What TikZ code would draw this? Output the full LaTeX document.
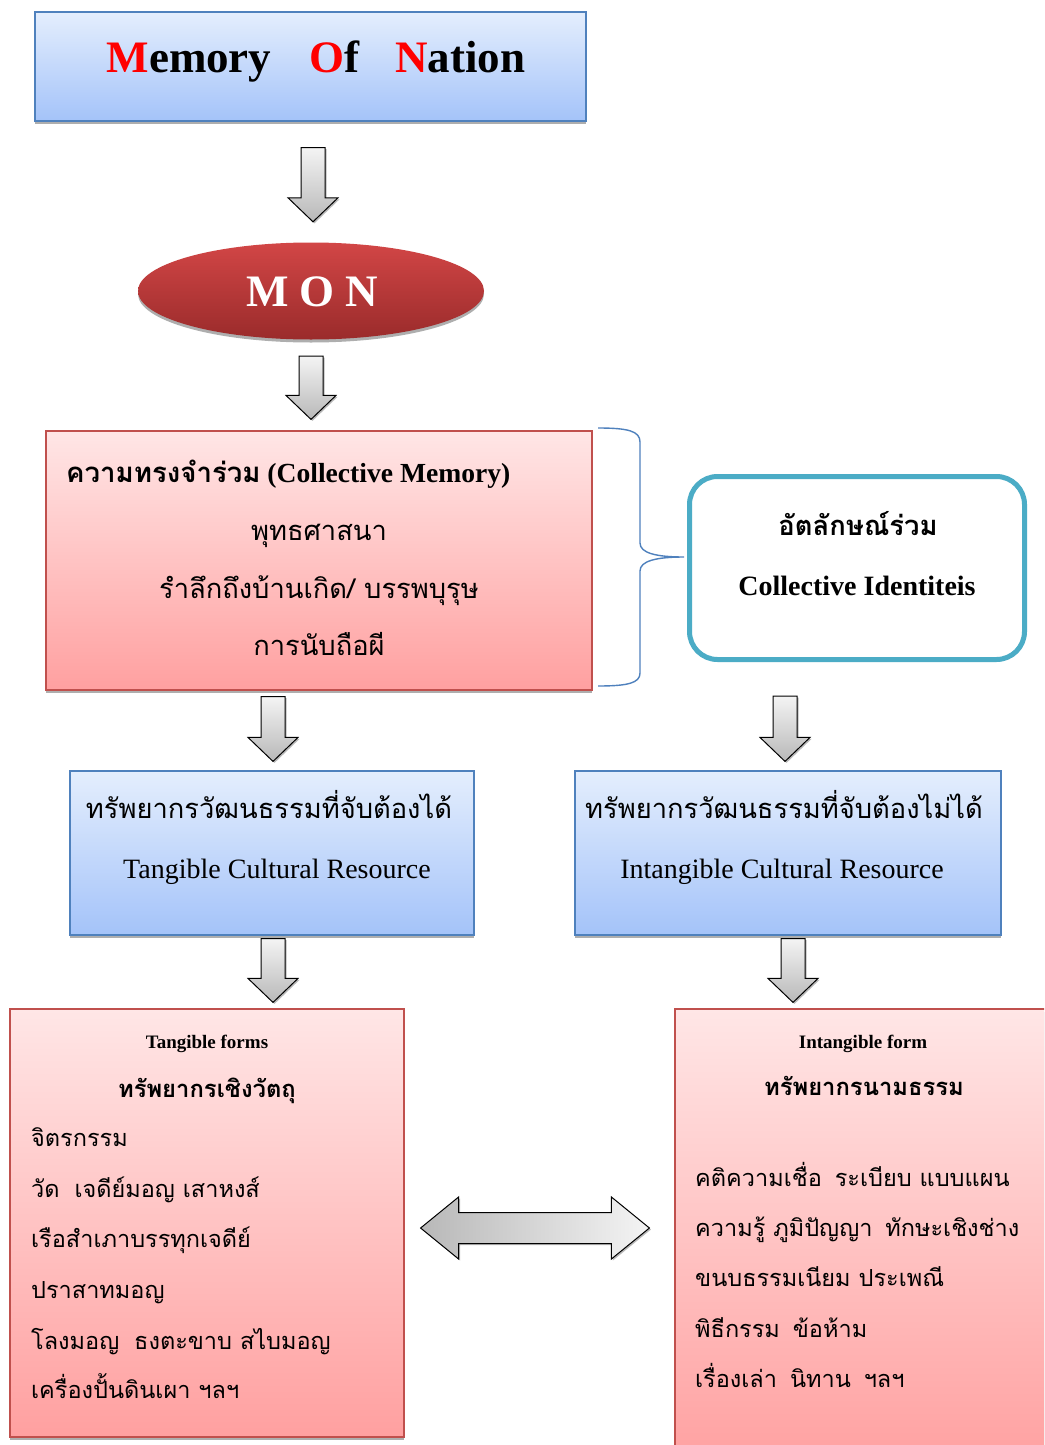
\documentclass[tikz,border=0pt]{standalone}
\usepackage{fontspec}
\setmainfont{Liberation Serif}
\newfontfamily\thai[Script=Thai]{Loma}
\usetikzlibrary{shapes.geometric,shadows,calc}

\definecolor{bluetop}{HTML}{E4EEFD}
\definecolor{bluebot}{HTML}{A4C3F9}
\definecolor{blueline}{HTML}{4F81BD}
\definecolor{pinktop}{HTML}{FFE6E6}
\definecolor{pinkbot}{HTML}{FFA0A0}
\definecolor{redline}{HTML}{C0504D}
\definecolor{tealline}{HTML}{4BACC6}
\definecolor{montop}{HTML}{D24646}
\definecolor{monbot}{HTML}{9A2B2B}
\definecolor{arrtop}{HTML}{F4F4F4}
\definecolor{arrbot}{HTML}{B8B8B8}

\tikzset{
  boxshadow/.style={drop shadow={shadow xshift=0pt,shadow yshift=-3pt,fill=black!45,opacity=0.7}},
  bluebox/.style={rectangle, draw=blueline, line width=1.2pt, top color=bluetop,
    bottom color=bluebot, inner sep=0pt, boxshadow},
  pinkbox/.style={rectangle, draw=redline, line width=1.2pt, top color=pinktop,
    bottom color=pinkbot, inner sep=0pt, boxshadow},
  identbox/.style={rectangle, rounded corners=28pt, draw=tealline, line width=5pt,
    fill=white, inner sep=0pt},
  monshape/.style={ellipse, top color=montop, bottom color=monbot, inner sep=0pt,
    boxshadow},
  blockarrow/.style={draw=black, line width=1pt, line join=miter, top color=arrtop,
    bottom color=arrbot, drop shadow={shadow xshift=1.5pt,shadow yshift=-1.5pt,fill=black!55}},
  dblarrow/.style={draw=black, line width=1pt, line join=miter, left color=arrbot,
    right color=arrtop, drop shadow={shadow xshift=1.5pt,shadow yshift=-1.5pt,fill=black!55}},
  bracestyle/.style={draw=blueline, line width=1.4pt},
  txt/.style={anchor=base, inner sep=0pt},
  entxt/.style={txt, font=\fontsize{28}{32}\selectfont},
  enbold/.style={txt, font=\bfseries\fontsize{28}{32}\selectfont},
  ensmall/.style={txt, font=\bfseries\fontsize{19}{22}\selectfont},
  thtxt/.style={txt, font=\thai\fontsize{27.3}{30}\selectfont},
  thbig/.style={txt, font=\thai\bfseries\fontsize{27.4}{30}\selectfont},
  thbold/.style={txt, font=\thai\bfseries\fontsize{23.8}{28}\selectfont},
  listtxt/.style={txt, anchor=base west, font=\thai\fontsize{23.5}{28}\selectfont},
}

% block arrow pointing down, from #1 to #2
\newcommand{\blockdown}[2]{%
  \path[blockarrow] let \p1=(#1), \p2=(#2) in
    (\x1-12pt,\y1) -- (\x1+12pt,\y1) -- (\x1+12pt,\y2+24pt) -- (\x1+25pt,\y2+24pt)
    -- (\x1,\y2) -- (\x1-25pt,\y2+24pt) -- (\x1-12pt,\y2+24pt) -- cycle;}

% horizontal block arrow with two heads, from #1 to #2
\newcommand{\blockboth}[2]{%
  \path[dblarrow] let \p1=(#1), \p2=(#2) in
    (\x1,\y1) -- (\x1+38pt,\y1+31pt) -- (\x1+38pt,\y1+15.5pt) -- (\x2-38pt,\y1+15.5pt)
    -- (\x2-38pt,\y1+31pt) -- (\x2,\y1) -- (\x2-38pt,\y1-31pt) -- (\x2-38pt,\y1-15.5pt)
    -- (\x1+38pt,\y1-15.5pt) -- (\x1+38pt,\y1-31pt) -- cycle;}

\begin{document}
\begin{tikzpicture}[x=1pt,y=-1pt]
\useasboundingbox (0,0) rectangle (1044,1445);
\clip (0,0) rectangle (1044,1445);
\fill[white] (0,0) rectangle (1044,1445);

% ---- boxes ----
\node[bluebox, minimum width=551pt, minimum height=109pt] (title) at (310.5,66.5) {};
\node[monshape, minimum width=346pt, minimum height=97pt] (mon) at (311,291) {};
\node[pinkbox, minimum width=546pt, minimum height=259pt] (mem) at (319,560.5) {};
\node[identbox, minimum width=335pt, minimum height=183pt] (ident) at (857,568) {};
\node[bluebox, minimum width=404pt, minimum height=164pt] (tang) at (272,853) {};
\node[bluebox, minimum width=426pt, minimum height=164pt] (intang) at (788,853) {};
\node[pinkbox, minimum width=394pt, minimum height=428pt] (tform) at (207,1223) {};
\node[pinkbox, minimum width=420pt, minimum height=460pt] (iform) at (885,1239) {};

% ---- texts ----
\node[txt, font=\bfseries\fontsize{45}{50}\selectfont] (titletxt) at (316,73)
  {\textcolor{red}{M}emory\hspace{38pt}\textcolor{red}{O}f\hspace{36pt}\textcolor{red}{N}ation};
\node[txt, text=white, font=\bfseries\fontsize{45}{50}\selectfont] (montxt) at (312,306)
  {M\hspace{11pt}O\hspace{11pt}N};

\node[enbold, anchor=base west, font=\bfseries\fontsize{27.6}{32}\selectfont] (memhead) at (66,482)
  {{\thai ความทรงจำร่วม} (Collective Memory)};
\node[thtxt] (mem1) at (319,540) {พุทธศาสนา};
\node[thtxt] (mem2) at (319,598) {รำลึกถึงบ้านเกิด/ บรรพบุรุษ};
\node[thtxt] (mem3) at (319,655) {การนับถือผี};

\node[thbig] (idth) at (858,535) {อัตลักษณ์ร่วม};
\node[enbold] (iden) at (857,595) {Collective Identiteis};

\node[thtxt] (tangth) at (269,818) {ทรัพยากรวัฒนธรรมที่จับต้องได้};
\node[entxt] (tangen) at (277,878) {Tangible Cultural Resource};
\node[thtxt] (intangth) at (784,818) {ทรัพยากรวัฒนธรรมที่จับต้องไม่ได้};
\node[entxt] (intangen) at (782,878) {Intangible Cultural Resource};

\node[ensmall] (tfhead) at (207,1048) {Tangible forms};
\node[thbold] (tfth) at (207,1097) {ทรัพยากรเชิงวัตถุ};
\node[listtxt] (tf1) at (31,1146) {จิตรกรรม};
\node[listtxt] (tf2) at (31,1197) {วัด\hspace{7pt} เจดีย์มอญ เสาหงส์};
\node[listtxt] (tf3) at (31,1247) {เรือสำเภาบรรทุกเจดีย์};
\node[listtxt] (tf4) at (31,1298) {ปราสาทมอญ};
\node[listtxt] (tf5) at (31,1349) {โลงมอญ\hspace{7pt} ธงตะขาบ สไบมอญ};
\node[listtxt] (tf6) at (31,1398) {เครื่องปั้นดินเผา ฯลฯ};

\node[ensmall] (ifhead) at (863,1048) {Intangible form};
\node[thbold] (ifth) at (864,1095) {ทรัพยากรนามธรรม};
\node[listtxt] (if1) at (695,1186) {คติความเชื่อ\hspace{5pt} ระเบียบ แบบแผน};
\node[listtxt] (if2) at (695,1236) {ความรู้ ภูมิปัญญา\hspace{5pt} ทักษะเชิงช่าง};
\node[listtxt] (if3) at (695,1286) {ขนบธรรมเนียม ประเพณี};
\node[listtxt] (if4) at (695,1337) {พิธีกรรม\hspace{5pt} ข้อห้าม};
\node[listtxt] (if5) at (695,1387) {เรื่องเล่า\hspace{5pt} นิทาน\hspace{5pt} ฯลฯ};

% ---- arrow ends ----
\coordinate (a1s) at ($(title.south)+(2.5,26)$);
\coordinate (a1e) at ($(mon.north)+(2,-20.5)$);
\coordinate (a2s) at ($(mon.south)+(0,16.5)$);
\coordinate (a2e) at ($(mem.north)+(-8,-11)$);
\coordinate (a3s) at ($(mem.south)+(-46,6)$);
\coordinate (a3e) at ($(tang.north)+(1,-9)$);
\coordinate (a4s) at ($(ident.south)+(-72,34)$);
\coordinate (a4e) at ($(intang.north)+(-3,-9)$);
\coordinate (a5s) at ($(tang.south)+(1,3)$);
\coordinate (a5e) at ($(tform.north)+(66,-6)$);
\coordinate (a6s) at ($(intang.south)+(5,3)$);
\coordinate (a6e) at ($(iform.north west)+(118,-6)$);
\coordinate (d1) at ($(tform.east)+(16,5)$);
\coordinate (d2) at ($(iform.west)+(-25,-11)$);

\blockdown{a1s}{a1e}
\blockdown{a2s}{a2e}
\blockdown{a3s}{a3e}
\blockdown{a4s}{a4e}
\blockdown{a5s}{a5e}
\blockdown{a6s}{a6e}
\blockboth{d1}{d2}

% ---- brace joining the memory box to the identity box ----
\draw[bracestyle] (598,428) .. controls (628,428) and (640,431) .. (640,442)
  -- (640,543) .. controls (640,553) and (656,557) .. (684,557)
  .. controls (656,557) and (640,561) .. (640,571)
  -- (640,673) .. controls (640,683) and (628,686) .. (598,686);
\end{tikzpicture}
\end{document}
